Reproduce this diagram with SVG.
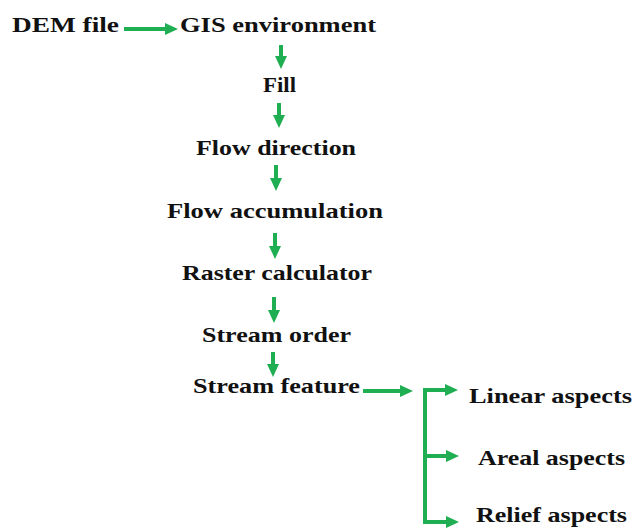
<svg xmlns="http://www.w3.org/2000/svg" width="634" height="529" viewBox="0 0 634 529">
<style>
.t{font-family:"Liberation Serif","Times New Roman",serif;font-weight:bold;font-size:22px;fill:#111;}
.c{stroke:#1fae52;stroke-width:4;fill:none;}
.h{stroke:#1fae52;stroke-width:4;fill:none;marker-end:url(#ah);}
</style>
<defs>
<marker id="ah" markerUnits="userSpaceOnUse" markerWidth="14" markerHeight="14" refX="1" refY="7" orient="auto">
<path d="M0,1 L13,7 L0,13 z" fill="#1fae52"/>
</marker>
</defs>
<rect width="634" height="529" fill="#fff"/>
<g id="connectors">
<line class="h" x1="124" y1="29" x2="166" y2="29"/>
<line class="h" x1="281" y1="45" x2="281" y2="57"/>
<line class="h" x1="279" y1="103" x2="279" y2="116"/>
<line class="h" x1="276" y1="165" x2="276" y2="179"/>
<line class="h" x1="275" y1="233" x2="275" y2="247"/>
<line class="h" x1="274" y1="297" x2="274" y2="311"/>
<line class="h" x1="273" y1="352" x2="273" y2="365"/>
<line class="h" x1="363" y1="391" x2="401" y2="391"/>
<path class="c" d="M425,522 L425,390"/>
<line class="h" x1="423" y1="390" x2="446" y2="390"/>
<line class="h" x1="425" y1="456" x2="447" y2="456"/>
<line class="h" x1="423" y1="522" x2="447" y2="522"/>
</g>
<g id="n-dem"><text class="t" x="12" y="32" textLength="107" lengthAdjust="spacingAndGlyphs">DEM file</text></g>
<g id="n-gis"><text class="t" x="180" y="32" textLength="196" lengthAdjust="spacingAndGlyphs">GIS environment</text></g>
<g id="n-fill"><text class="t" x="263" y="92" textLength="33" lengthAdjust="spacingAndGlyphs">Fill</text></g>
<g id="n-flowdir"><text class="t" x="196" y="155" textLength="160" lengthAdjust="spacingAndGlyphs">Flow direction</text></g>
<g id="n-flowacc"><text class="t" x="167" y="218" textLength="216" lengthAdjust="spacingAndGlyphs">Flow accumulation</text></g>
<g id="n-raster"><text class="t" x="182" y="280" textLength="190" lengthAdjust="spacingAndGlyphs">Raster calculator</text></g>
<g id="n-order"><text class="t" x="202" y="342" textLength="149" lengthAdjust="spacingAndGlyphs">Stream order</text></g>
<g id="n-feature"><text class="t" x="193" y="393" textLength="167" lengthAdjust="spacingAndGlyphs">Stream feature</text></g>
<g id="n-linear"><text class="t" x="469" y="403" textLength="163" lengthAdjust="spacingAndGlyphs">Linear aspects</text></g>
<g id="n-areal"><text class="t" x="478" y="465" textLength="147" lengthAdjust="spacingAndGlyphs">Areal aspects</text></g>
<g id="n-relief"><text class="t" x="476" y="522" textLength="151" lengthAdjust="spacingAndGlyphs">Relief aspects</text></g>
</svg>
